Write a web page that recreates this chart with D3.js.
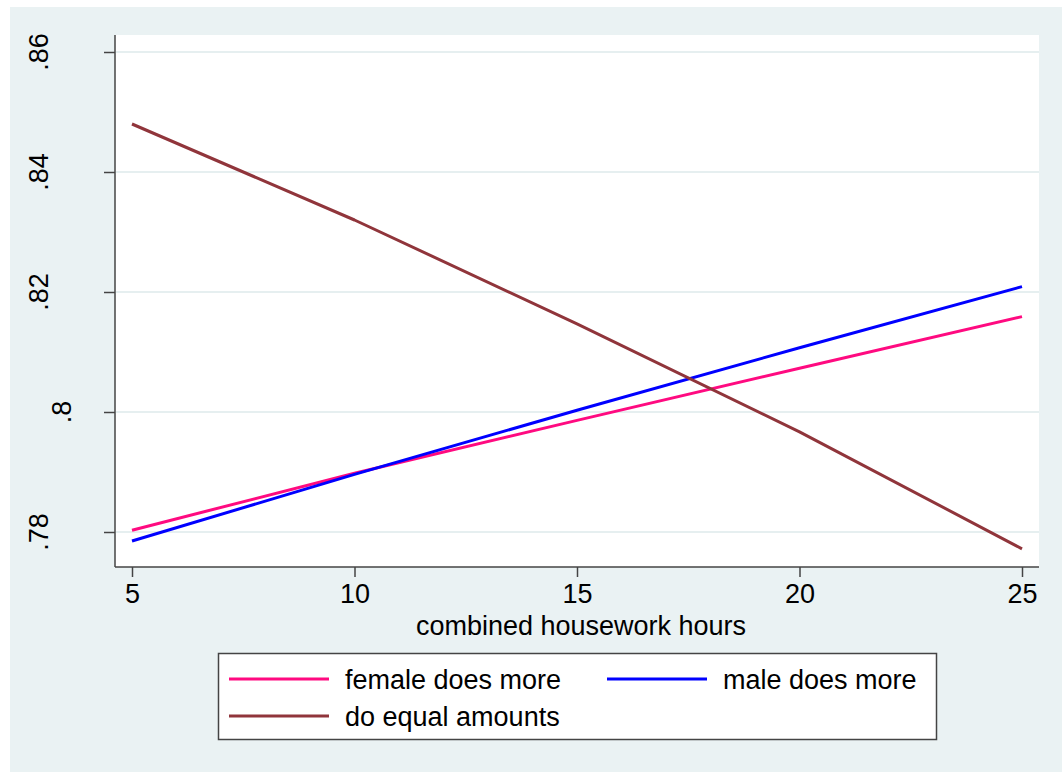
<!DOCTYPE html>
<html>
<head>
<meta charset="utf-8" />
<script src="https://d3js.org/d3.v7.min.js"></script>
<style>
body { margin: 0; background: #fff; }
text {
  font-family: "Liberation Sans", Arial, sans-serif;
  fill: #000;
}
.grid { stroke: #e6eff0; stroke-width: 2px; }
.series { fill: none; stroke-width: 3px; stroke-linejoin: round; }
</style>
</head>
<body>
<script type="text/javascript">
    // chart data
    var hours = [5, 10, 15, 20, 25];
    var femaleMore = [0.7803, 0.7898, 0.7986, 0.8073, 0.8159];
    var maleMore = [0.7785, 0.7896, 0.8003, 0.8107, 0.8209];
    var equalAmounts = [0.8480, 0.8320, 0.8147, 0.7967, 0.7772];

    var seriesNames = ["female does more", "male does more", "do equal amounts"];
    var seriesColors = ["#ff0a80", "#0000ff", "#90353b"];
    var xTicks = [5, 10, 15, 20, 25];
    var yTicks = [0.78, 0.80, 0.82, 0.84, 0.86];
    var yTickLabels = [".78", ".8", ".82", ".84", ".86"];
    var xTitle = "combined housework hours";

    var width = 1062, height = 772;
    var plot = {left: 115, right: 1039, top: 35, bottom: 567};
    var fontSize = 27;

    var svg = d3.select("body").append("svg")
        .attr("width", width)
        .attr("height", height);

    // outer graph region and white plot region
    svg.append("rect")
        .attr("x", 10).attr("y", 7)
        .attr("width", width - 10).attr("height", height - 7)
        .attr("fill", "#eaf2f3");
    svg.append("rect")
        .attr("x", plot.left).attr("y", plot.top)
        .attr("width", plot.right - plot.left).attr("height", plot.bottom - plot.top)
        .attr("fill", "#fff");

    var x = d3.scaleLinear().domain([5, 25]).range([132, 1022]);
    var y = d3.scaleLinear().domain([0.78, 0.86]).range([532, 52]);

    // horizontal grid
    svg.append("g").selectAll("line")
        .data(yTicks)
      .enter().append("line")
        .attr("class", "grid")
        .attr("x1", plot.left + 1).attr("x2", plot.right)
        .attr("y1", function(d) { return y(d); })
        .attr("y2", function(d) { return y(d); });

    // lines
    var table = [femaleMore, maleMore, equalAmounts].map(function(vals, i) {
      return {name: seriesNames[i], color: seriesColors[i],
              pts: vals.map(function(v, j) { return [hours[j], v]; })};
    });
    var line = d3.line()
        .x(function(d) { return x(d[0]); })
        .y(function(d) { return y(d[1]); });
    svg.append("g").selectAll("path")
        .data(table)
      .enter().append("path")
        .attr("class", "series")
        .attr("stroke", function(d) { return d.color; })
        .attr("d", function(d) { return line(d.pts); });

    // axes
    var xAxis = svg.append("g")
        .attr("transform", "translate(0," + plot.bottom + ")")
        .call(d3.axisBottom(x).tickValues(xTicks).tickSize(10).tickSizeOuter(0).tickPadding(7));
    xAxis.select(".domain").attr("d", "M" + plot.left + ",0H" + plot.right);
    xAxis.selectAll("text").attr("font-size", fontSize).attr("fill", "#000")
        .attr("font-family", "Liberation Sans, Arial, sans-serif");

    var yAxis = svg.append("g")
        .attr("transform", "translate(" + plot.left + ",0)")
        .call(d3.axisLeft(y).tickValues(yTicks).tickSize(11).tickSizeOuter(0)
          .tickFormat(function(d, i) { return yTickLabels[i]; }));
    yAxis.select(".domain").attr("d", "M0," + plot.top + "V" + plot.bottom);
    yAxis.selectAll(".tick text").remove();
    xAxis.selectAll("line, path").attr("stroke", "#444").attr("stroke-width", 1.5);
    yAxis.selectAll("line, path").attr("stroke", "#444").attr("stroke-width", 1.5);

    // rotated y labels; Stata shifts the short one toward the axis
    var maxLen = d3.max(yTickLabels, function(s) { return s.length; });
    svg.append("g").selectAll("text")
        .data(yTicks)
      .enter().append("text")
        .attr("font-size", fontSize)
        .attr("text-anchor", "middle")
        .attr("transform", function(d, i) {
          var bx = 48 + (maxLen - yTickLabels[i].length) * 23;
          return "translate(" + bx + "," + y(d) + ") rotate(-90)";
        })
        .text(function(d, i) { return yTickLabels[i]; });

    svg.append("text")
        .attr("x", (plot.left + plot.right) / 2 + 4)
        .attr("y", 635)
        .attr("font-size", fontSize)
        .attr("text-anchor", "middle")
        .text(xTitle);

    // legend
    var legend = svg.append("g");
    legend.append("rect")
        .attr("x", 218.5).attr("y", 653.5)
        .attr("width", 718).attr("height", 86)
        .attr("fill", "#fff").attr("stroke", "#444").attr("stroke-width", 1.5);
    var cols = [229, 607], rows = [679, 716];
    var item = legend.selectAll(".item")
        .data(table)
      .enter().append("g")
        .attr("class", "item")
        .attr("transform", function(d, i) {
          return "translate(" + cols[i % 2] + "," + rows[Math.floor(i / 2)] + ")";
        });
    item.append("line")
        .attr("x1", 0).attr("x2", 100)
        .attr("stroke", function(d) { return d.color; })
        .attr("stroke-width", 3);
    item.append("text")
        .attr("x", 116).attr("dy", "0.36em")
        .attr("font-size", fontSize)
        .text(function(d) { return d.name; });
</script>
</body>
</html>
